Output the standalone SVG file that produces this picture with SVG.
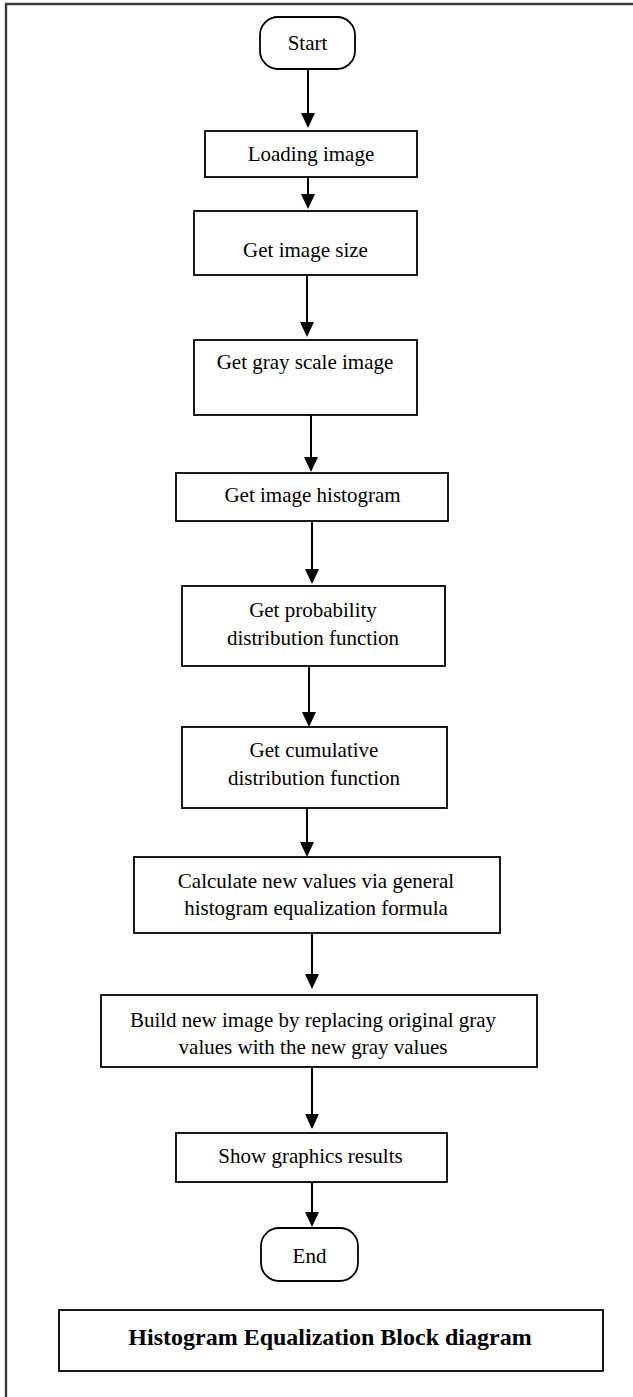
<svg xmlns="http://www.w3.org/2000/svg" width="633" height="1397" viewBox="0 0 633 1397">
<style>
.box{fill:#fff;stroke:#000;stroke-width:1.8}
.t{font-family:"Liberation Serif","Times New Roman",serif;font-size:21px;fill:#000;text-anchor:middle}
.tb{font-family:"Liberation Serif","Times New Roman",serif;font-size:24px;font-weight:bold;fill:#000;text-anchor:middle}
.c{stroke:#000;stroke-width:2;fill:none}
.frame{stroke:#3a3a3a;stroke-width:2.4;fill:none}
</style>
<defs>
<marker id="ah" markerUnits="userSpaceOnUse" markerWidth="16" markerHeight="17" refX="8" refY="16" orient="auto-start-reverse" viewBox="0 0 16 17">
<path d="M0,0 L16,0 L8,16 Z" fill="#000" transform="rotate(-90 8 8)"/>
</marker>
</defs>
<rect width="633" height="1397" fill="#fff"/>
<g id="frame">
<line class="frame" x1="5" y1="4" x2="633" y2="4"/>
<line class="frame" x1="6" y1="3" x2="6" y2="1397"/>
</g>
<g id="connectors">
<path class="c" d="M308,69 V114"/><polygon points="301,113 315,113 308,128"/>
<path class="c" d="M308,177 V195"/><polygon points="301,194 315,194 308,209"/>
<path class="c" d="M307,275 V323"/><polygon points="300,322 314,322 307,337"/>
<path class="c" d="M311,415 V458"/><polygon points="304,457 318,457 311,472"/>
<path class="c" d="M312,521 V570"/><polygon points="305,569 319,569 312,584"/>
<path class="c" d="M309,666 V713"/><polygon points="302,712 316,712 309,727"/>
<path class="c" d="M307,808 V843"/><polygon points="300,842 314,842 307,857"/>
<path class="c" d="M312,933 V975"/><polygon points="305,974 319,974 312,989"/>
<path class="c" d="M312,1067 V1115"/><polygon points="305,1114 319,1114 312,1129"/>
<path class="c" d="M312,1182 V1213"/><polygon points="305,1212 319,1212 312,1227"/>
</g>
<g id="start">
<rect class="box" x="260" y="17" width="95" height="52" rx="18" ry="18"/>
<text class="t" x="307.5" y="50">Start</text>
</g>
<g id="loading">
<rect class="box" x="205" y="131" width="212" height="46"/>
<text class="t" x="311" y="161">Loading image</text>
</g>
<g id="size">
<rect class="box" x="194" y="211" width="223" height="64"/>
<text class="t" x="305.5" y="257">Get image size</text>
</g>
<g id="gray">
<rect class="box" x="194" y="340" width="223" height="75"/>
<text class="t" x="305" y="369">Get gray scale image</text>
</g>
<g id="histogram">
<rect class="box" x="176" y="473" width="272" height="48"/>
<text class="t" x="312.5" y="502">Get image histogram</text>
</g>
<g id="pdf">
<rect class="box" x="182" y="586" width="263" height="80"/>
<text class="t" x="313" y="617">Get probability</text>
<text class="t" x="313" y="644.5">distribution function</text>
</g>
<g id="cdf">
<rect class="box" x="182" y="727" width="265" height="81"/>
<text class="t" x="314" y="757">Get cumulative</text>
<text class="t" x="314" y="784.5">distribution function</text>
</g>
<g id="calc">
<rect class="box" x="134" y="857" width="366" height="76"/>
<text class="t" x="316" y="887.5">Calculate new values via general</text>
<text class="t" x="316" y="915">histogram equalization formula</text>
</g>
<g id="build">
<rect class="box" x="101" y="995" width="436" height="72"/>
<text class="t" x="313" y="1026.5">Build new image by replacing original gray</text>
<text class="t" x="313" y="1054">values with the new gray values</text>
</g>
<g id="show">
<rect class="box" x="176" y="1133" width="271" height="49"/>
<text class="t" x="310.5" y="1163">Show graphics results</text>
</g>
<g id="end">
<rect class="box" x="261" y="1228" width="97" height="53" rx="18" ry="18"/>
<text class="t" x="309.5" y="1263">End</text>
</g>
<g id="title">
<rect class="box" x="59" y="1310" width="544" height="61"/>
<text class="tb" x="330" y="1345">Histogram Equalization Block diagram</text>
</g>
</svg>
